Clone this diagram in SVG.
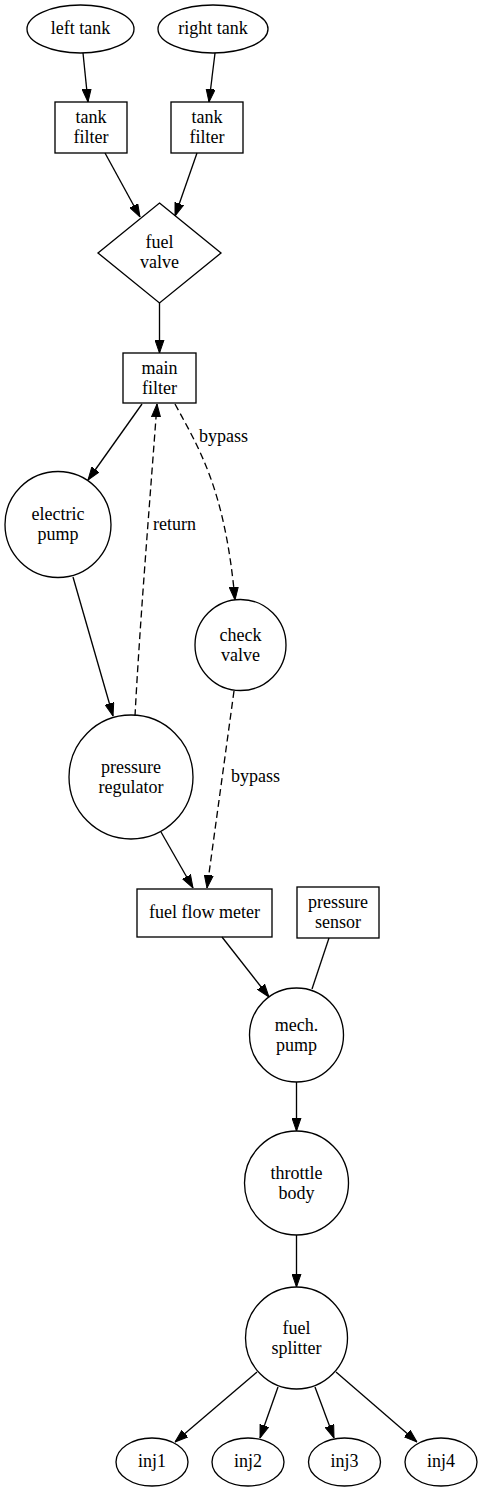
<svg xmlns="http://www.w3.org/2000/svg" width="482" height="1491" viewBox="0 0 482 1491">
<style>
.n{fill:none;stroke:#000;stroke-width:1.33}
.t{font-family:"Liberation Serif","Times New Roman",serif;font-size:18px;text-anchor:middle;fill:#000}
.l{font-family:"Liberation Serif","Times New Roman",serif;font-size:18px;text-anchor:start;fill:#000}
.e{fill:none;stroke:#000;stroke-width:1.33}
.d{stroke-dasharray:7,4}
</style>
<defs>
<marker id="ah" viewBox="0 0 13 10" refX="13" refY="5" markerWidth="13" markerHeight="10" markerUnits="userSpaceOnUse" orient="auto">
<path d="M0,0.5 L13,5 L0,9.5 z" fill="#000" stroke="#000" stroke-width="1"/>
</marker>
</defs>
<rect width="482" height="1491" fill="#fff"/>
<g id="edges">
<path class="e" d="M83,53 L88,102" marker-end="url(#ah)"/>
<path class="e" d="M215,53 L209,102" marker-end="url(#ah)"/>
<path class="e" d="M105,153 L140,217" marker-end="url(#ah)"/>
<path class="e" d="M197,153 L175,216" marker-end="url(#ah)"/>
<path class="e" d="M159.5,303 L159.5,353" marker-end="url(#ah)"/>
<path class="e" d="M142,404 L88,480" marker-end="url(#ah)"/>
<path class="e" d="M73,577 L113,716" marker-end="url(#ah)"/>
<path class="e d" d="M135,716 C140,620 150,500 157,404" marker-end="url(#ah)"/>
<text class="l" x="153" y="530">return</text>
<path class="e d" d="M175,404 C200,450 225,490 235,600" marker-end="url(#ah)"/>
<text class="l" x="199" y="442">bypass</text>
<path class="e d" d="M234,691 L207,888" marker-end="url(#ah)"/>
<text class="l" x="231" y="782">bypass</text>
<path class="e" d="M161,832 L193,888" marker-end="url(#ah)"/>
<path class="e" d="M329,938 L312,989"/>
<path class="e" d="M222,937 L269,997" marker-end="url(#ah)"/>
<path class="e" d="M296.5,1082 L296.5,1131" marker-end="url(#ah)"/>
<path class="e" d="M296.5,1235 L296.5,1287" marker-end="url(#ah)"/>
<path class="e" d="M257,1372 L175,1442" marker-end="url(#ah)"/>
<path class="e" d="M278,1387 L260,1438" marker-end="url(#ah)"/>
<path class="e" d="M315,1387 L334,1438" marker-end="url(#ah)"/>
<path class="e" d="M336,1372 L417,1442" marker-end="url(#ah)"/>
</g>
<g id="left_tank"><ellipse class="n" cx="80.5" cy="29" rx="53.5" ry="24"/><text class="t" x="80.5" y="34">left tank</text></g>
<g id="right_tank"><ellipse class="n" cx="213" cy="29" rx="55" ry="24"/><text class="t" x="213" y="34">right tank</text></g>
<g id="tank_filter_l"><rect class="n" x="55" y="102" width="72" height="51"/><text class="t" x="91" y="123">tank</text><text class="t" x="91" y="143">filter</text></g>
<g id="tank_filter_r"><rect class="n" x="171" y="102" width="72" height="51"/><text class="t" x="207" y="123">tank</text><text class="t" x="207" y="143">filter</text></g>
<g id="fuel_valve"><polygon class="n" points="159.5,203 221,253 159.5,303 98,253"/><text class="t" x="159.5" y="248">fuel</text><text class="t" x="159.5" y="268">valve</text></g>
<g id="main_filter"><rect class="n" x="123" y="353" width="73" height="50"/><text class="t" x="159.5" y="374">main</text><text class="t" x="159.5" y="394">filter</text></g>
<g id="electric_pump"><circle class="n" cx="58" cy="524.5" r="53"/><text class="t" x="58" y="520">electric</text><text class="t" x="58" y="540">pump</text></g>
<g id="check_valve"><circle class="n" cx="240.5" cy="645" r="45.5"/><text class="t" x="240.5" y="641">check</text><text class="t" x="240.5" y="661">valve</text></g>
<g id="pressure_regulator"><circle class="n" cx="131" cy="777" r="62"/><text class="t" x="131" y="773">pressure</text><text class="t" x="131" y="793">regulator</text></g>
<g id="fuel_flow_meter"><rect class="n" x="137" y="889" width="135" height="48"/><text class="t" x="204.5" y="918">fuel flow meter</text></g>
<g id="pressure_sensor"><rect class="n" x="297" y="887" width="82" height="51"/><text class="t" x="338" y="908">pressure</text><text class="t" x="338" y="928">sensor</text></g>
<g id="mech_pump"><circle class="n" cx="296.5" cy="1035" r="47"/><text class="t" x="296.5" y="1031">mech.</text><text class="t" x="296.5" y="1051">pump</text></g>
<g id="throttle_body"><circle class="n" cx="296.5" cy="1183" r="52"/><text class="t" x="296.5" y="1179">throttle</text><text class="t" x="296.5" y="1199">body</text></g>
<g id="fuel_splitter"><circle class="n" cx="296.5" cy="1338" r="51"/><text class="t" x="296.5" y="1334">fuel</text><text class="t" x="296.5" y="1354">splitter</text></g>
<g id="inj1"><ellipse class="n" cx="152" cy="1462" rx="36" ry="24"/><text class="t" x="152" y="1467">inj1</text></g>
<g id="inj2"><ellipse class="n" cx="248" cy="1462" rx="36" ry="24"/><text class="t" x="248" y="1467">inj2</text></g>
<g id="inj3"><ellipse class="n" cx="344.5" cy="1462" rx="36" ry="24"/><text class="t" x="344.5" y="1467">inj3</text></g>
<g id="inj4"><ellipse class="n" cx="441" cy="1462" rx="36" ry="24"/><text class="t" x="441" y="1467">inj4</text></g>
</svg>
